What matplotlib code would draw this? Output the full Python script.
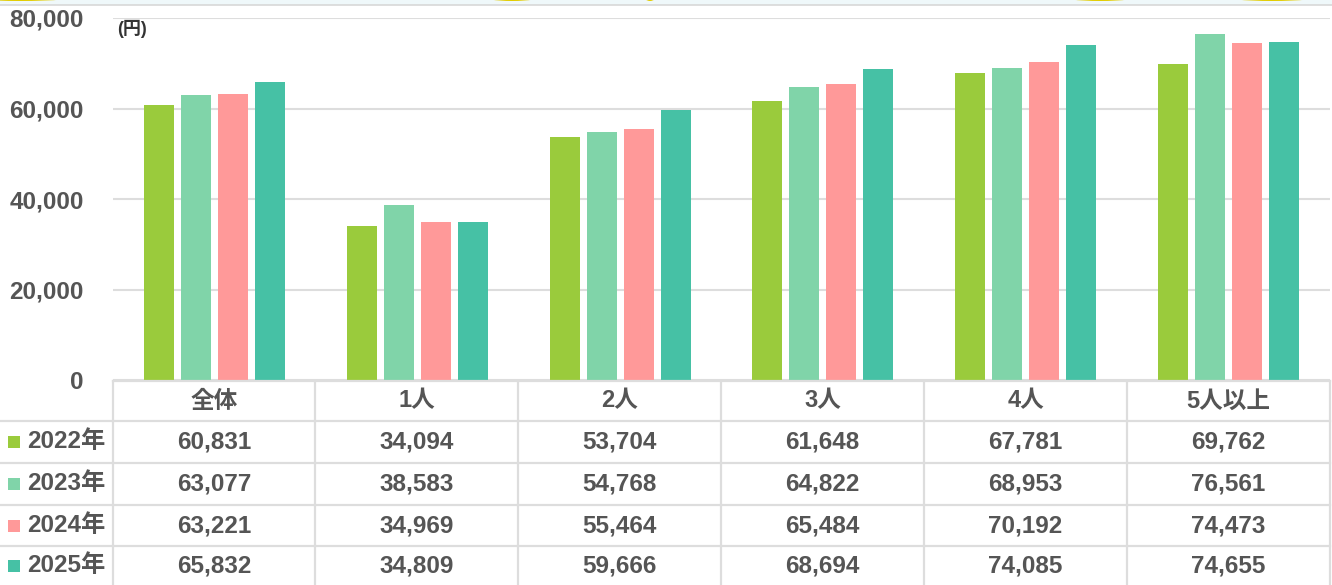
import matplotlib
matplotlib.use("Agg")
import matplotlib.pyplot as plt
from matplotlib.patches import Rectangle, Ellipse
import numpy as np

plt.rcParams["font.family"] = ["Liberation Sans", "Noto Sans CJK JP", "DejaVu Sans"]

categories = ["全体", "1人", "2人", "3人", "4人", "5人以上"]
years = ["2022年", "2023年", "2024年", "2025年"]
values = {
    "2022年": [60831, 34094, 53704, 61648, 67781, 69762],
    "2023年": [63077, 38583, 54768, 64822, 68953, 76561],
    "2024年": [63221, 34969, 55464, 65484, 70192, 74473],
    "2025年": [65832, 34809, 59666, 68694, 74085, 74655],
}
colors = ["#9ACB3C", "#80D4A9", "#FF9999", "#46C1A5"]
yticks = [0, 20000, 40000, 60000, 80000]

W, H = 1332, 585
fig = plt.figure(figsize=(W / 100, H / 100), dpi=100)
TXT = "#555555"
GRID = "#DDDDDD"

# --- decorative top strip ---
deco = fig.add_axes([0, 0, 1, 1], zorder=0)
deco.set_xlim(0, W)
deco.set_ylim(H, 0)
deco.axis("off")
deco.add_patch(Rectangle((0, 0), W, 4.5, color="#EFF8FA", lw=0))
deco.plot([0, W], [5, 5], color="#D8D8D8", lw=1.2)
for cx, w in [(20, 120), (512, 60), (650, 12), (1100, 80), (1272, 100)]:
    deco.add_patch(Ellipse((cx, -4), w, 10, color="#E3CC00", lw=0))

# --- bar chart ---
ax = fig.add_axes([113 / W, 1 - 380 / H, 1217 / W, 362 / H], zorder=1)
ax.patch.set_alpha(0)
x = np.arange(len(categories))
bw = 30 / 203
step = 37 / 203
for k, yr in enumerate(years):
    ax.bar(x + (k - 1.5) * step, values[yr], width=bw, color=colors[k], lw=0, zorder=3)
ax.set_xlim(-0.5, len(categories) - 0.5)
ax.set_ylim(0, 80000)
ax.set_yticks(yticks)
ax.set_yticklabels([f"{v:,}" for v in yticks], fontsize=17.5, fontweight="bold", color=TXT)
ax.tick_params(axis="y", length=0, pad=21)
ax.set_xticks([])
ax.grid(axis="y", color=GRID, lw=1.5, zorder=0)
for s in ax.spines.values():
    s.set_visible(False)
fig.text(117 / W, 1 - 29 / H, "(円)", fontsize=13, fontweight="bold", color="#333333",
         ha="left", va="center")

# --- data table ---
tb = fig.add_axes([0, 0, 1, 1], zorder=2)
tb.patch.set_alpha(0)
tb.set_xlim(0, W)
tb.set_ylim(H, 0)
tb.axis("off")
col_x = [113, 315, 518, 721, 924, 1127, 1330]
row_y = [381, 421, 463, 505, 546, 600]
tb.plot([col_x[0], col_x[-1]], [row_y[0], row_y[0]], color=GRID, lw=1.6)
for yy in row_y[1:5]:
    tb.plot([0, col_x[-1]], [yy, yy], color=GRID, lw=1.6)
for xx in col_x:
    tb.plot([xx, xx], [row_y[0], H], color=GRID, lw=1.6)

for i, cat in enumerate(categories):
    cx = (col_x[i] + col_x[i + 1]) / 2
    tb.text(cx, (row_y[0] + row_y[1]) / 2, cat, ha="center", va="center",
            fontsize=17, fontweight="bold", color=TXT)
for r, yr in enumerate(years):
    cy = (row_y[r + 1] + row_y[r + 2]) / 2 if r < 3 else 566
    tb.add_patch(Rectangle((8, cy - 6), 12, 12, color=colors[r], lw=0))
    tb.text(27, cy, yr, ha="left", va="center", fontsize=17.5, fontweight="bold", color=TXT)
    for i in range(len(categories)):
        cx = (col_x[i] + col_x[i + 1]) / 2
        tb.text(cx, cy, f"{values[yr][i]:,}", ha="center", va="center",
                fontsize=17.5, fontweight="bold", color=TXT)

fig.savefig("out.png", dpi=100)
